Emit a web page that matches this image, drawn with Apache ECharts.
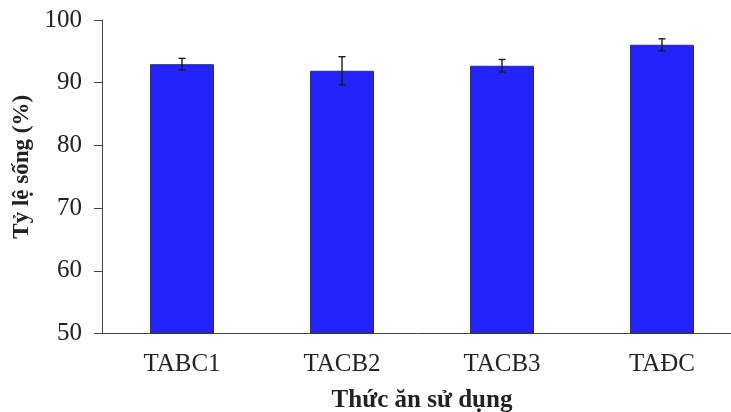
<!DOCTYPE html>
<html>
<head>
<meta charset="utf-8">
<script src="https://cdn.jsdelivr.net/npm/echarts@6/dist/echarts.min.js"></script>
<style>
  html, body { margin: 0; padding: 0; background: #fff; }
  #main { width: 731px; height: 412px; }
</style>
</head>
<body>
<div id="main"></div>
<script>
// thức ăn và tỷ lệ sống
var categories = ['TABC1', 'TACB2', 'TACB3', 'TAĐC'];
var survival = [92.95, 91.9, 92.7, 96.05];
var errors = [0.93, 2.25, 1.0, 0.95];
var yTicks = [50, 60, 70, 80, 90, 100];

var errData = categories.map(function (c, i) {
    return [i, survival[i] - errors[i], survival[i] + errors[i]];
});

var serif = 'Liberation Serif';

option = {
    animation: false,
    grid: {
        left: 102,
        top: 20,
        height: 313.5,
        width: 640,
        outerBoundsMode: 'none'
    },
    xAxis: {
        type: 'category',
        data: categories,
        name: 'Thức ăn sử dụng',
        nameLocation: 'middle',
        nameGap: 55,
        nameTextStyle: {
            fontFamily: serif,
            fontWeight: 'bold',
            fontSize: 25,
            color: '#222'
        },
        axisTick: { show: false },
        axisLine: {
            lineStyle: { color: '#444', width: 1 }
        },
        axisLabel: {
            fontFamily: serif,
            fontSize: 25,
            color: '#222',
            margin: 18
        }
    },
    yAxis: {
        type: 'value',
        min: yTicks[0],
        max: yTicks[yTicks.length - 1],
        interval: 10,
        name: 'Tỷ lệ sống (%)',
        nameLocation: 'middle',
        nameGap: 48,
        nameTextStyle: {
            fontFamily: serif,
            fontWeight: 'bold',
            fontSize: 23,
            color: '#222',
            padding: [0, 0, 0, 20]
        },
        splitLine: { show: false },
        axisLine: {
            show: true,
            lineStyle: { color: '#444', width: 1 }
        },
        axisTick: {
            show: true,
            length: 8,
            lineStyle: { color: '#444' }
        },
        axisLabel: {
            fontFamily: serif,
            fontSize: 25,
            color: '#222',
            margin: 20
        }
    },
    series: [
        {
            type: 'bar',
            data: survival,
            barWidth: '40%',
            itemStyle: {
                color: '#2323ff',
                borderColor: '#333',
                borderWidth: 1
            }
        },
        {
            // thanh sai số
            type: 'custom',
            data: errData,
            z: 5,
            renderItem: function (params, api) {
                var lo = api.coord([api.value(0), api.value(1)]);
                var hi = api.coord([api.value(0), api.value(2)]);
                var w = 3.5;
                var st = { stroke: '#1a1a1a', lineWidth: 1.4 };
                return {
                    type: 'group',
                    children: [
                        { type: 'line', shape: { x1: hi[0], y1: hi[1], x2: lo[0], y2: lo[1] }, style: st },
                        { type: 'line', shape: { x1: hi[0] - w, y1: hi[1], x2: hi[0] + w, y2: hi[1] }, style: st },
                        { type: 'line', shape: { x1: lo[0] - w, y1: lo[1], x2: lo[0] + w, y2: lo[1] }, style: st }
                    ]
                };
            }
        }
    ]
};

var chart = echarts.init(document.getElementById('main'));
chart.setOption(option, true);
</script>
</body>
</html>
